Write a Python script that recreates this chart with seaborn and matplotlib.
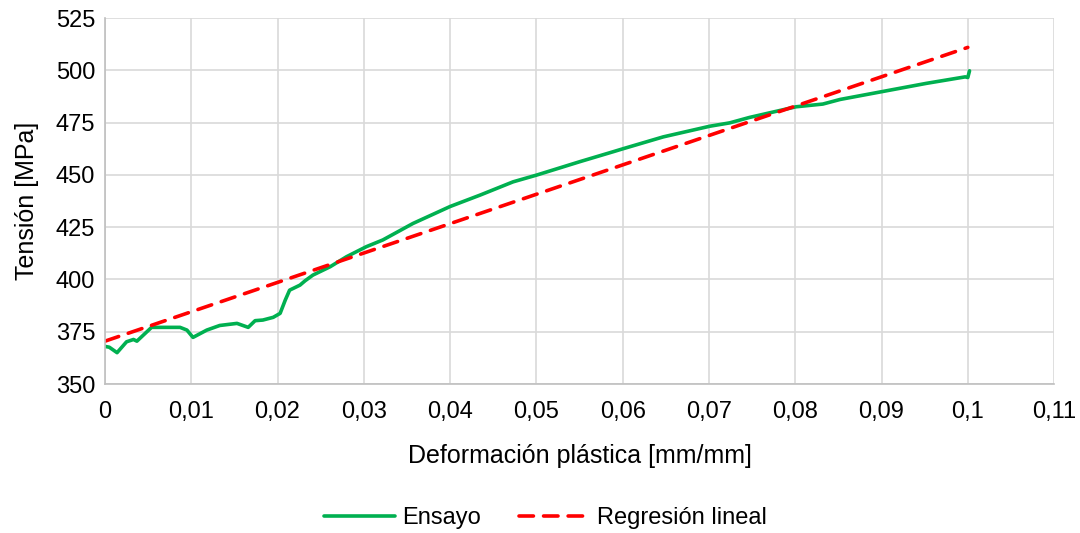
import numpy as np
import pandas as pd
import seaborn as sns
import matplotlib.pyplot as plt
from matplotlib.ticker import FuncFormatter, MultipleLocator

# ensayo curve
strain = [0, 0.0005, 0.0014, 0.0025, 0.0033, 0.0037, 0.0054, 0.0071, 0.0087, 0.0095,
          0.0102, 0.0118, 0.0133, 0.0153, 0.0166, 0.0174, 0.0183, 0.0195, 0.0203, 0.0209,
          0.0214, 0.0226, 0.0232, 0.0241, 0.0261, 0.0280, 0.0303, 0.0322, 0.0357, 0.0400,
          0.0435, 0.0473, 0.0500, 0.0550, 0.0589, 0.0601, 0.0647, 0.0701, 0.0724, 0.0747,
          0.0801, 0.0832, 0.0852, 0.0900, 0.0952, 0.0997, 0.1000, 0.1002]
stress = [368, 367.6, 365, 370.2, 371.3, 370.5, 377.1, 377.1, 377.1, 375.8,
          372.3, 375.8, 378.0, 379.0, 377.1, 380.3, 380.6, 381.9, 383.8, 390.2,
          394.9, 397.3, 399.4, 402.1, 406.1, 410.9, 415.7, 418.9, 426.8, 434.9,
          440.4, 446.7, 449.9, 456.3, 461.1, 462.6, 468.2, 473.3, 474.9, 477.5,
          482.6, 483.9, 486.1, 489.8, 493.8, 496.9, 496.6, 499.8]

# regression line end points
reg_x = [0, 0.1]
reg_y = [370.5, 511]

sns.set_theme(style="white")
plt.rcParams['font.family'] = ['Liberation Sans', 'DejaVu Sans']
plt.rcParams['text.color'] = '#000000'
plt.rcParams['axes.labelcolor'] = '#000000'

df_test = pd.DataFrame({"x": strain, "y": stress})
df_reg = pd.DataFrame({"x": reg_x, "y": reg_y})

fig, ax = plt.subplots(figsize=(10.8, 5.33), dpi=100)
fig.subplots_adjust(left=0.0972, right=0.976, top=0.966, bottom=0.2795)

sns.lineplot(data=df_test, x="x", y="y", ax=ax, color="#00B050", lw=2.6,
             estimator=None, sort=False, label="Ensayo")
sns.lineplot(data=df_reg, x="x", y="y", ax=ax, color="#FF0000", lw=2.6,
             estimator=None, sort=False, label="Regresión lineal",
             dashes=False, linestyle=(0, (4, 2.8)))
for ln in ax.get_lines():
    ln.set_solid_capstyle("round")
    ln.set_dash_capstyle("round")

ax.set_xlim(0, 0.11)
ax.set_ylim(350, 525)
ax.xaxis.set_major_locator(MultipleLocator(0.01))
ax.yaxis.set_major_locator(MultipleLocator(25))
ax.xaxis.set_major_formatter(FuncFormatter(lambda v, p: f"{round(v, 2):g}".replace(".", ",")))
ax.grid(True, color="#d9d9d9", lw=1.2)
ax.set_axisbelow(True)
for s in ["top", "right"]:
    ax.spines[s].set_visible(False)
for s in ["left", "bottom"]:
    ax.spines[s].set_color("#bfbfbf")
    ax.spines[s].set_linewidth(1.2)
ax.tick_params(axis="both", labelsize=17, colors="#000000", length=0)
ax.tick_params(axis="x", pad=12)
ax.tick_params(axis="y", pad=7)

ax.set_xlabel("Deformación plástica [mm/mm]", fontsize=18, labelpad=15, color="#000000")
ax.set_ylabel("Tensión [MPa]", fontsize=18, labelpad=12, color="#000000")

handles, labels = ax.get_legend_handles_labels()
ax.get_legend().remove()
fig.legend(handles, labels, loc="center", bbox_to_anchor=(0.505, 0.028), ncol=2,
           frameon=False, fontsize=17, handlelength=3.0, columnspacing=1.6,
           handletextpad=0.3, labelcolor="#000000")

plt.savefig("out.png", dpi=100)
